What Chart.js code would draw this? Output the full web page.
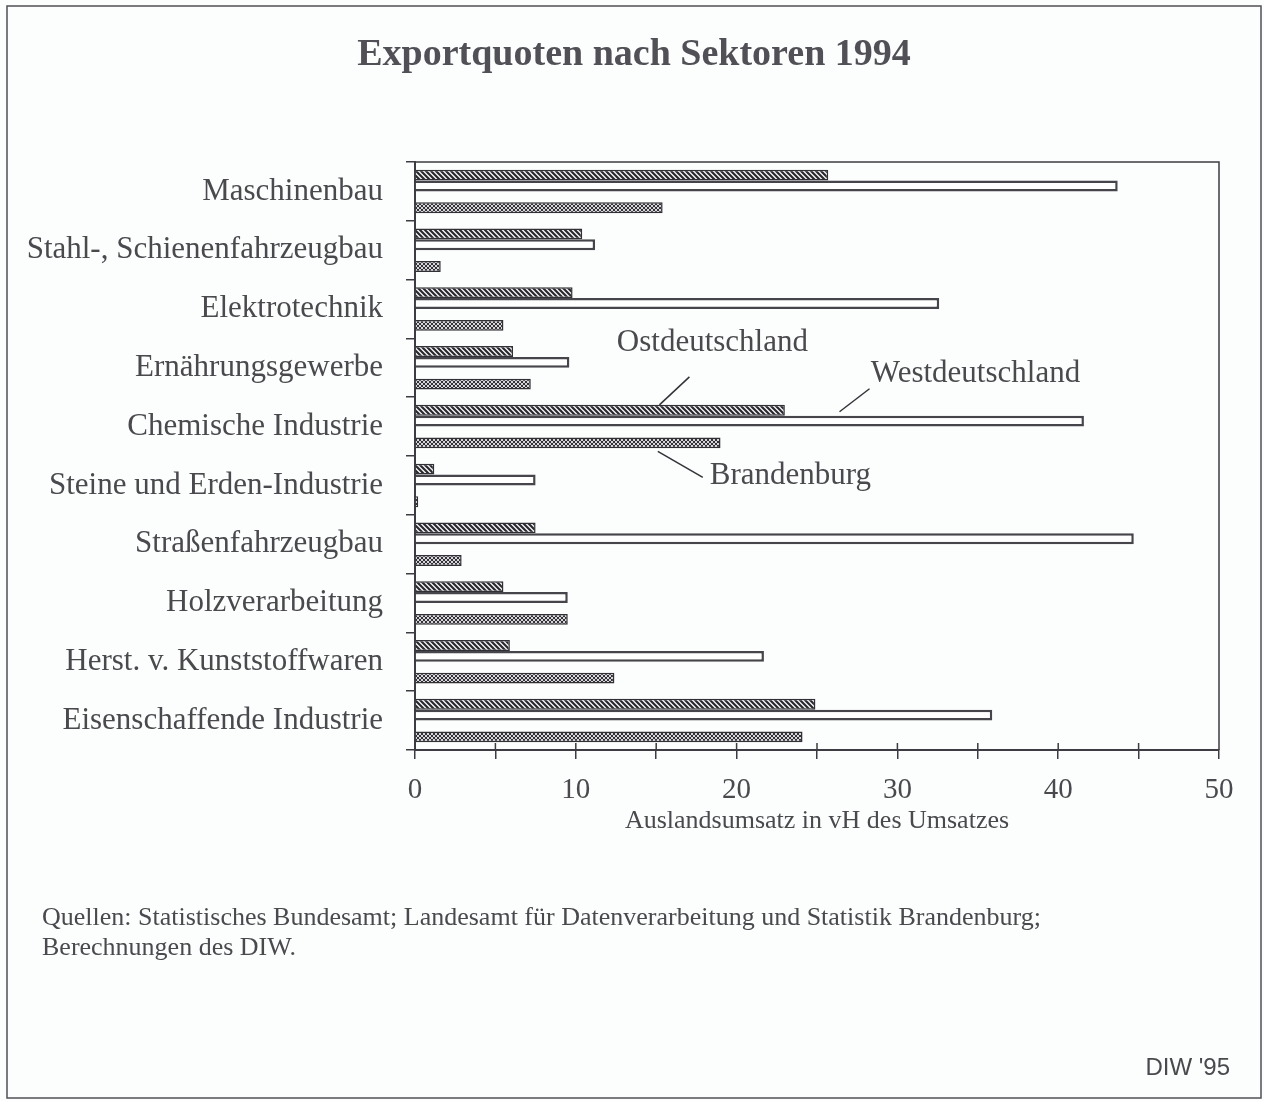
<!DOCTYPE html>
<html>
<head>
<meta charset="utf-8">
<script src="https://cdn.jsdelivr.net/npm/chart.js@4.4.1/dist/chart.umd.min.js"></script>
<style>
html, body { margin: 0; padding: 0; background: #fcfdfd; }
</style>
</head>
<body>
<canvas id="myChart" width="1264" height="1101"></canvas>
<script>
const sektoren = [
    'Maschinenbau',
    'Stahl-, Schienenfahrzeugbau',
    'Elektrotechnik',
    'Ernährungsgewerbe',
    'Chemische Industrie',
    'Steine und Erden-Industrie',
    'Straßenfahrzeugbau',
    'Holzverarbeitung',
    'Herst. v. Kunststoffwaren',
    'Eisenschaffende Industrie'
];
const ostdeutschland  = [25.7, 10.4, 9.8, 6.1, 23.0, 1.2, 7.5, 5.5, 5.9, 24.9];
const westdeutschland = [43.7, 11.2, 32.6, 9.6, 41.6, 7.5, 44.7, 9.5, 21.7, 35.9];
const brandenburg     = [15.4, 1.6, 5.5, 7.2, 19.0, 0.2, 2.9, 9.5, 12.4, 24.1];
const xTicks = [0, 10, 20, 30, 40, 50];

const textColor = '#4a4a4e';
const axisColor = '#3c3c42';
const serif = "'Liberation Serif', 'Times New Roman', serif";

const ctx = document.getElementById('myChart').getContext('2d');

// hatch patterns for the bars
function muster(size, draw) {
    const c = document.createElement('canvas');
    c.width = c.height = size;
    const g = c.getContext('2d');
    draw(g, size);
    return ctx.createPattern(c, 'repeat');
}
const schraffur = muster(5, (g, s) => {
    g.fillStyle = '#f4f4f4';
    g.fillRect(0, 0, s, s);
    g.strokeStyle = '#27272d';
    g.lineWidth = 2.1;
    g.beginPath();
    g.moveTo(-1, -1); g.lineTo(s + 1, s + 1);
    g.moveTo(-1, s - 1); g.lineTo(1, s + 1);
    g.moveTo(s - 1, -1); g.lineTo(s + 1, 1);
    g.stroke();
});
const kreuz = muster(4, (g, s) => {
    g.fillStyle = '#d6d6d8';
    g.fillRect(0, 0, s, s);
    g.strokeStyle = '#323238';
    g.lineWidth = 1;
    g.beginPath();
    g.moveTo(0, 0); g.lineTo(s, s);
    g.moveTo(s, 0); g.lineTo(0, s);
    g.stroke();
});

const hinweisSektor = 4; // Chemische Industrie carries the series labels

const rahmen = {
    id: 'rahmen',
    beforeDraw(chart) {
        const c = chart.ctx;
        c.save();
        c.fillStyle = '#fcfdfd';
        c.fillRect(0, 0, chart.width, chart.height);
        c.strokeStyle = '#505056';
        c.lineWidth = 1.5;
        c.strokeRect(7, 6, 1254, 1092);

        c.fillStyle = '#505056';
        c.textAlign = 'center';
        c.textBaseline = 'middle';
        c.font = 'bold 38px ' + serif;
        c.fillText('Exportquoten nach Sektoren 1994', 634, 55);

        c.fillStyle = textColor;
        c.textAlign = 'left';
        c.font = '26px ' + serif;
        c.fillText('Quellen: Statistisches Bundesamt; Landesamt für Datenverarbeitung und Statistik Brandenburg;', 42, 918);
        c.fillText('Berechnungen des DIW.', 42, 948);

        c.textAlign = 'right';
        c.font = "24px 'Liberation Sans', Arial, sans-serif";
        c.fillText("DIW '95", 1230, 1068);
        c.restore();
    },
    afterDraw(chart) {
        const c = chart.ctx;
        const a = chart.chartArea;
        const xs = chart.scales.x;
        c.save();
        c.strokeStyle = axisColor;
        c.lineWidth = 1.5;
        c.beginPath();
        c.moveTo(a.left, a.top); c.lineTo(a.right, a.top); c.lineTo(a.right, a.bottom);
        c.stroke();

        // ticks reach a little into the plot as well
        c.beginPath();
        for (let v = 5; v < 50; v += 5) {
            const px = xs.getPixelForValue(v);
            c.moveTo(px, a.bottom); c.lineTo(px, a.bottom - 7);
        }
        c.stroke();

        c.fillStyle = textColor;
        c.textAlign = 'center';
        c.textBaseline = 'middle';
        c.font = '26px ' + serif;
        c.fillText('Auslandsumsatz in vH des Umsatzes', (a.left + a.right) / 2, 821);

        // series labels with leader lines
        const ost = chart.getDatasetMeta(0).data[hinweisSektor];
        const west = chart.getDatasetMeta(1).data[hinweisSektor];
        const brb = chart.getDatasetMeta(3).data[hinweisSektor];
        c.lineWidth = 1.5;
        c.strokeStyle = '#333338';
        c.font = '31px ' + serif;

        let ex = xs.getPixelForValue(15.2), ey = ost.y - ost.height / 2;
        c.beginPath(); c.moveTo(ex, ey); c.lineTo(ex + 30, ey - 28); c.stroke();
        c.fillText('Ostdeutschland', ex + 53, ey - 62);

        ex = xs.getPixelForValue(26.4); ey = west.y - west.height / 2 - 4;
        c.beginPath(); c.moveTo(ex, ey); c.lineTo(ex + 30, ey - 23); c.stroke();
        c.fillText('Westdeutschland', ex + 136, ey - 38);

        ex = xs.getPixelForValue(15.1); ey = brb.y + brb.height / 2 + 3;
        c.beginPath(); c.moveTo(ex, ey); c.lineTo(ex + 45, ey + 26); c.stroke();
        c.textAlign = 'left';
        c.fillText('Brandenburg', ex + 52, ey + 25);
        c.restore();
    }
};

new Chart(ctx, {
    type: 'bar',
    data: {
        labels: sektoren,
        datasets: [{
            label: 'Ostdeutschland',
            data: ostdeutschland,
            backgroundColor: schraffur,
            borderColor: '#303036',
            borderWidth: 1.5
        }, {
            label: 'Westdeutschland',
            data: westdeutschland,
            backgroundColor: '#ffffff',
            borderColor: '#45454b',
            borderWidth: 2.5
        }, {
            label: '',
            data: sektoren.map(() => null)
        }, {
            label: 'Brandenburg',
            data: brandenburg,
            backgroundColor: kreuz,
            borderColor: '#303036',
            borderWidth: 1.5
        }]
    },
    options: {
        indexAxis: 'y',
        responsive: false,
        animation: false,
        categoryPercentage: 0.74,
        barPercentage: 1.0,
        layout: { padding: { top: 162, right: 45, bottom: 0, left: 0 } },
        plugins: {
            legend: { display: false },
            tooltip: { enabled: false },
            title: { display: false }
        },
        scales: {
            x: {
                min: 0,
                max: 50,
                border: { display: true, color: axisColor, width: 2 },
                grid: { drawOnChartArea: false, drawTicks: true, tickLength: 9, color: axisColor, lineWidth: 1.5 },
                ticks: {
                    stepSize: 5,
                    autoSkip: false,
                    maxRotation: 0,
                    padding: 14,
                    color: textColor,
                    font: { family: serif, size: 29 },
                    callback: function(value) {
                        return xTicks.includes(value) ? String(value) : '';
                    }
                },
                afterFit: function(scale) { scale.height = 1101 - 750; }
            },
            y: {
                border: { display: true, color: axisColor, width: 2 },
                grid: { offset: true, drawOnChartArea: false, tickLength: 9, color: axisColor, lineWidth: 1.5 },
                ticks: {
                    padding: 23,
                    color: textColor,
                    font: { family: serif, size: 31 }
                },
                afterFit: function(scale) { scale.width = 415; }
            }
        }
    },
    plugins: [rahmen]
});
</script>
</body>
</html>
